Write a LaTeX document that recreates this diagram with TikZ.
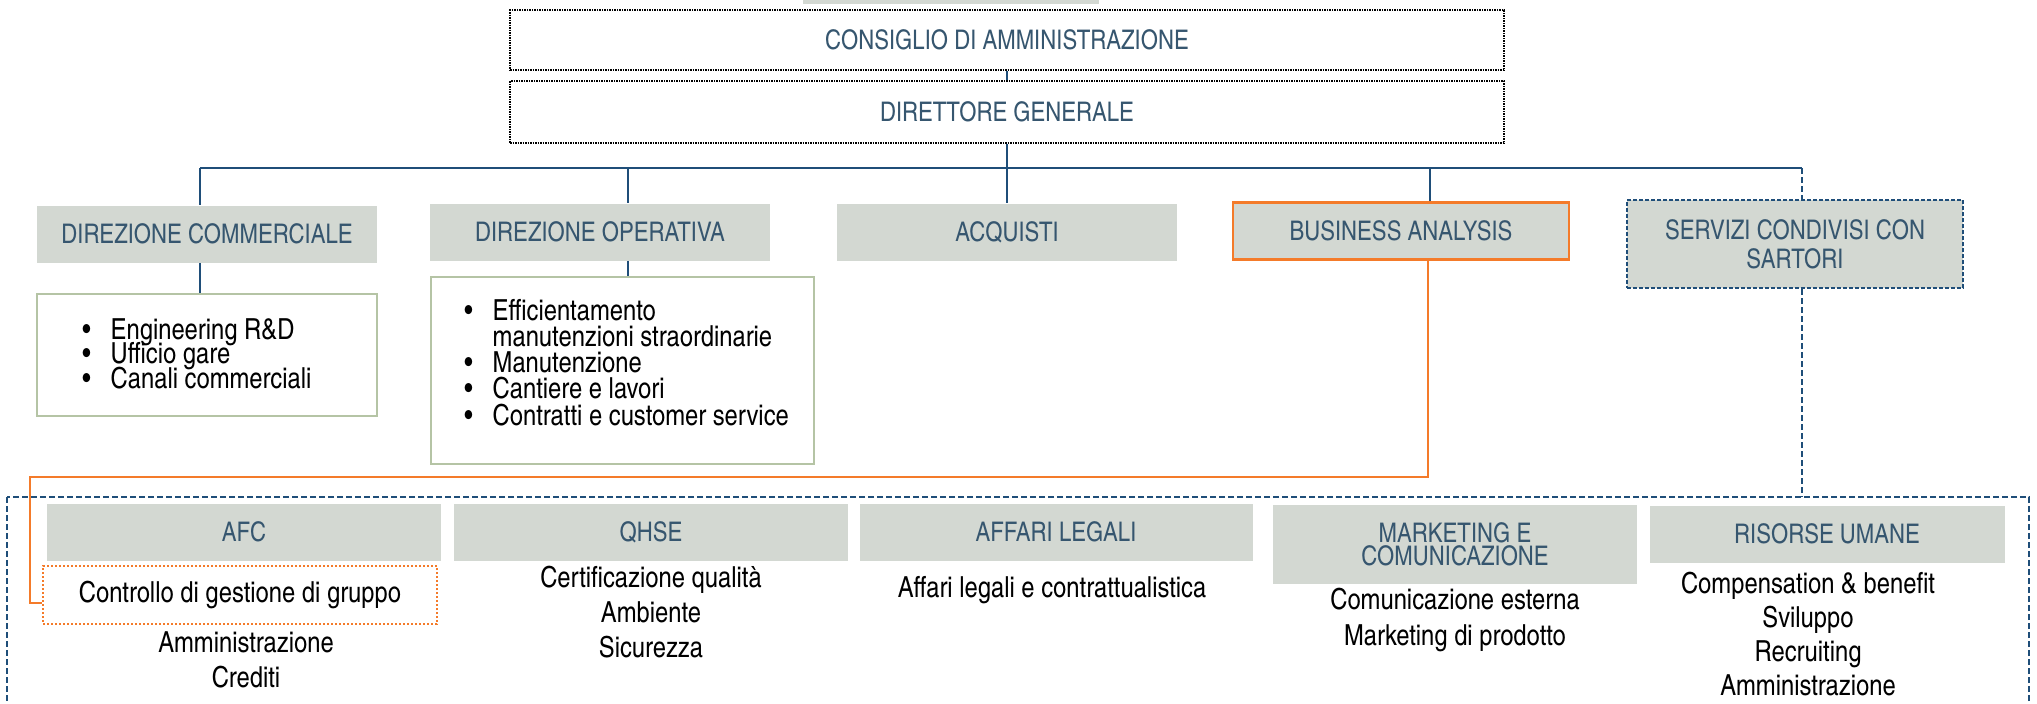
\documentclass[tikz,border=0pt]{standalone}
\usepackage{fontspec}
\setmainfont{texgyreheroscn}[Extension=.otf, UprightFont=*-regular, BoldFont=*-bold, ItalicFont=*-italic, BoldItalicFont=*-bolditalic]
\usetikzlibrary{positioning}

\definecolor{navy}{HTML}{1F4E79}
\definecolor{slate}{HTML}{36566F}
\definecolor{boxgrey}{HTML}{D3D8D2}
\definecolor{orangeline}{HTML}{F47B2A}
\definecolor{olive}{HTML}{B5C4A5}

\begin{document}
\begin{tikzpicture}[
		x=0.5pt, y=-0.5pt,
		topbox/.style={
			draw=black, line width=0.75pt, dash pattern=on 0.75pt off 0.5pt,
			minimum width=497pt, minimum height=30pt, inner sep=0pt,
			text=slate, font=\fontsize{13.5}{15}\selectfont,
		},
		headbox/.style={
			fill=boxgrey, minimum width=170pt, minimum height=28.5pt, inner sep=0pt,
			text=slate, align=center, font=\fontsize{13.5}{14.5}\selectfont,
		},
		listbox/.style={draw=olive, line width=1pt, inner sep=0pt},
		items/.style={anchor=west, inner sep=0pt, font=\fontsize{14.5}{12}\selectfont},
		subtext/.style={align=center, inner sep=0pt, font=\fontsize{14.5}{17.5}\selectfont},
		link/.style={navy, line width=0.85pt},
		dashlink/.style={navy, line width=0.8pt, dash pattern=on 3pt off 1.5pt},
		orangelink/.style={orangeline, line width=0.8pt},
	]
		\useasboundingbox (0,0) rectangle (2037,703);
		\fill[boxgrey] (803,-10) rectangle (1099,4);

		% vertice
		\node[topbox] (cda) at (1007,40) {CONSIGLIO DI AMMINISTRAZIONE};
		\node[topbox, minimum height=31pt] (dg) at (1007,112) {DIRETTORE GENERALE};

		% direzioni
		\node[headbox] (dc) at (207,234) {DIREZIONE COMMERCIALE};
		\node[headbox] (dop) at (600,232) {DIREZIONE OPERATIVA};
		\node[headbox] (acq) at (1007,232) {ACQUISTI};
		\node[headbox, draw=orangeline, line width=1.4pt, minimum width=168pt] (ba) at (1401,231) {BUSINESS ANALYSIS};
		\node[headbox, draw=navy, line width=1.2pt, dash pattern=on 2pt off 1pt,
			minimum width=168pt, minimum height=44pt] (scs) at (1795,244) {SERVIZI CONDIVISI CON\\SARTORI};

		% elenchi
		\node[listbox, minimum width=170pt, minimum height=61pt] (dclist) at (207,355) {};
		\node[items] (dcitems) at (82,357) {%
			\begin{tabular}{@{}l@{\hspace{10pt}}l@{}}
				\textbullet & Engineering R\&D\\[-2pt]
				\textbullet & Ufficio gare\\[-2pt]
				\textbullet & Canali commerciali
			\end{tabular}};
		\node[listbox, minimum width=191.5pt, minimum height=93.5pt] (doplist) at (622,370) {};
		\node[items] (dopitems) at (464,366) {%
			\begin{tabular}{@{}l@{\hspace{10pt}}l@{}}
				\textbullet & Efficientamento\\[-1pt]
				 & manutenzioni straordinarie\\[-1pt]
				\textbullet & Manutenzione\\[-1pt]
				\textbullet & Cantiere e lavori\\[-1pt]
				\textbullet & Contratti e customer service
			\end{tabular}};

		% servizi condivisi
		\coordinate (frameNW) at (7,497);
		\coordinate (frameSE) at (2029,740);
		\draw[dashlink] (frameNW) rectangle (frameSE);

		\node[headbox, minimum width=197pt] (afc) at (244,532) {AFC};
		\node[headbox, minimum width=197pt] (qhse) at (651,532) {QHSE};
		\node[headbox, minimum width=196.5pt] (legali) at (1056,532) {AFFARI LEGALI};
		\node[headbox, minimum width=182pt, minimum height=39.5pt,
			font=\fontsize{13.5}{11.5}\selectfont] (mkt) at (1455,544) {MARKETING E\\COMUNICAZIONE};
		\node[headbox, minimum width=177.5pt] (hr) at (1827,534) {RISORSE UMANE};

		\node[draw=orangeline, line width=1pt, dash pattern=on 1pt off 1pt,
			minimum width=197pt, minimum height=29pt, inner sep=0pt,
			font=\fontsize{14.5}{17.5}\selectfont] (cdg) at (240,595) {Controllo di gestione di gruppo};
		\node[subtext] (afcsub) at (246,660) {Amministrazione\\Crediti};
		\node[subtext] (qhsesub) at (651,612) {Certificazione qualità\\Ambiente\\Sicurezza};
		\node[subtext] (legalisub) at (1052,590) {Affari legali e contrattualistica};
		\node[subtext, font=\fontsize{14.5}{18}\selectfont] (mktsub) at (1455,620) {Comunicazione esterna\\Marketing di prodotto};
		\node[subtext, font=\fontsize{14.5}{17}\selectfont] (hrsub) at (1808,634) {Compensation \& benefit\\Sviluppo\\Recruiting\\Amministrazione};

		% collegamenti
		\draw[link] (cda.south) -- (dg.north);
		\draw[link] (dg.south) -- (acq.north);
		\coordinate (busL) at (200,168);
		\coordinate (busR) at (1802,168);
		\coordinate (tapDO) at (628,168);
		\coordinate (tapBA) at (1430,168);
		\draw[link] (busL) -- (busR);
		\draw[link] (busL) -- (busL |- dc.north);
		\draw[link] (dc.south -| busL) -- (dclist.north -| busL);
		\draw[link] (tapDO) -- (tapDO |- dop.north);
		\draw[link] (dop.south -| tapDO) -- (doplist.north -| tapDO);
		\draw[link] (tapBA) -- (tapBA |- ba.north);
		\draw[dashlink] (busR) -- (busR |- scs.north);
		\draw[dashlink] (scs.south -| busR) -- (busR |- frameNW);

		\coordinate (oR) at (1428,477);
		\coordinate (oL) at (30,477);
		\draw[orangelink] (ba.south -| oR) -- (oR) -- (oL) |- ([yshift=-4pt]cdg.west);
	\end{tikzpicture}
\end{document}
